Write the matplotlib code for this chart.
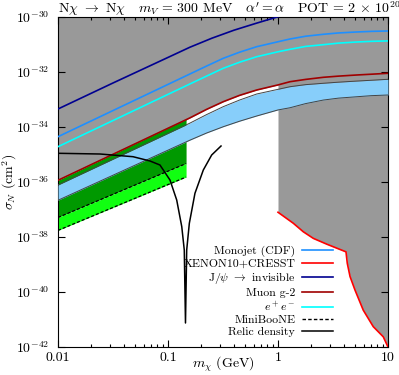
import matplotlib
matplotlib.use("Agg")
import matplotlib.pyplot as plt
import matplotlib.ticker as mticker
import numpy as np

plt.rcParams["font.family"] = "serif"
plt.rcParams["font.serif"] = ["cmr10", "DejaVu Serif"]
plt.rcParams["mathtext.fontset"] = "cm"
plt.rcParams["axes.formatter.use_mathtext"] = True
plt.rcParams["axes.unicode_minus"] = False

# ---- data (mass in GeV, log10 of sigma_N in cm^2) ----
curve_m = [0.01, 0.158, 0.224, 0.318, 0.447, 0.640, 1.0, 1.285, 1.778, 2.582, 3.548, 5.188, 7.079, 10.0]
monojet = [-34.353, -32.073, -31.785, -31.502, -31.28, -31.08, -30.90, -30.80, -30.70, -30.629,
           -30.58, -30.545, -30.522, -30.509]
epem = [-34.716, -32.436, -32.15, -31.865, -31.645, -31.444, -31.265, -31.175, -31.07, -31.007,
        -30.95, -30.909, -30.885, -30.87]
muon_g2 = [-35.938, -33.67, -33.36, -33.08, -32.85, -32.655, -32.47, -32.353, -32.27, -32.193,
           -32.15, -32.109, -32.08, -32.047]
band_top = [-36.11, -33.86, -33.55, -33.26, -33.02, -32.80, -32.63, -32.535, -32.46, -32.41,
            -32.37, -32.33, -32.30, -32.265]
band_bot = [-36.665, -34.48, -34.22, -33.99, -33.79, -33.60, -33.38, -33.30, -33.15, -33.02,
            -32.95, -32.90, -32.86, -32.836]

jpsi_m = [0.01, 0.0316, 0.1, 0.158, 0.251, 0.398, 0.631, 1.0, 1.585]
jpsi = [-33.345, -32.40, -31.47, -31.10, -30.77, -30.48, -30.23, -29.99, -29.77]

xenon_m = [1.0, 1.377, 1.698, 2.094, 2.773, 4.15, 4.266, 4.519, 5.012, 5.957, 7.345, 9.057, 10.0]
xenon = [-37.10, -37.50, -37.81, -38.05, -38.26, -38.54, -38.96, -39.44, -39.93, -40.66, -41.26, -41.63, -42.0]

mb_m = [0.01, 0.146]
mb_hi = [-37.29, -35.33]
mb_lo = [-37.76, -35.82]
mb_top = [-35.938, -33.72]

relic_m = [0.01, 0.0241, 0.0481, 0.0686, 0.0845, 0.1042, 0.120, 0.1334, 0.1406,
           0.1442, 0.1479, 0.1563, 0.1758, 0.2094, 0.2495, 0.3034]
relic = [-34.956, -34.982, -35.080, -35.236, -35.382, -35.927, -36.655, -37.625, -38.473,
         -41.127, -38.473, -37.502, -36.411, -35.564, -35.018, -34.691]

x_ticks = [0.01, 0.1, 1, 10]
x_ticklabels = ["0.01", "0.1", "1", "10"]
y_exps = [-30, -32, -34, -36, -38, -40, -42]

gray = "#999999"
top_val = 1e-30
dash = (0, (2.5, 1.6))


def p(v):
    return 10.0 ** np.array(v)


fig = plt.figure(figsize=(3.99, 3.75), dpi=100)
ax = fig.add_axes([58 / 399, 1 - 347 / 375, 330 / 399, 330 / 375])

# excluded region: above muon g-2 below 1 GeV, above XENON10+CRESST beyond
n_lo = sum(1 for m in curve_m if m <= 1.0)
excl_m = curve_m[:n_lo] + xenon_m
excl_y = muon_g2[:n_lo] + xenon
ax.fill_between(excl_m, p(excl_y), top_val, color=gray, lw=0, zorder=1)

# MiniBooNE sensitivity
ax.fill_between(mb_m, p(mb_hi), p(mb_top), color="#009900", lw=0, zorder=2)
ax.fill_between(mb_m, p(mb_lo), p(mb_hi), color="#11ff11", lw=0, zorder=2)
ax.plot(mb_m, p(mb_hi), color="black", ls=dash, lw=0.9, zorder=5)
ax.plot(mb_m, p(mb_lo), color="black", ls=dash, lw=0.9, zorder=5)

# favoured band
ax.fill_between(curve_m, p(band_bot), p(band_top), color="#87cefa", lw=0, zorder=3)
ax.plot(curve_m, p(band_top), color="#444444", lw=0.7, zorder=3)
ax.plot(curve_m, p(band_bot), color="#444444", lw=0.7, zorder=3)

# limit curves
ax.plot(curve_m, p(monojet), color="#1e90ff", lw=1.2, zorder=4, label="Monojet (CDF)")
ax.plot(xenon_m, p(xenon), color="#ff0000", lw=1.2, zorder=4, label="XENON10+CRESST")
ax.plot(jpsi_m, p(jpsi), color="#000090", lw=1.2, zorder=4, label=r"J/$\psi$ $\rightarrow$ invisible")
ax.plot(curve_m, p(muon_g2), color="#a00000", lw=1.2, zorder=4, label="Muon g-2")
ax.plot(curve_m, p(epem), color="#00ffff", lw=1.2, zorder=4, label=r"$e^+e^-$")
ax.plot([], [], color="black", ls=dash, lw=1.0, label="MiniBooNE")
ax.plot(relic_m, p(relic), color="black", lw=1.1, zorder=6, label="Relic density")

ax.set_xscale("log")
ax.set_yscale("log")
ax.set_xlim(0.01, 10)
ax.set_ylim(1e-42, 1e-30)

ax.set_xticks(x_ticks)
ax.set_xticklabels(x_ticklabels)
ax.xaxis.set_minor_locator(mticker.LogLocator(base=10, subs=np.arange(2, 10)))
ax.xaxis.set_minor_formatter(mticker.NullFormatter())
ax.set_yticks([10.0 ** e for e in y_exps])
ax.set_yticklabels([r"$10^{%d}$" % e for e in y_exps])
ax.yaxis.set_minor_locator(mticker.NullLocator())
ax.tick_params(which="both", direction="in", top=True, right=True, labelsize=10)
ax.tick_params(which="major", length=5, width=0.8)
ax.tick_params(which="minor", length=2.5, width=0.8)
ax.tick_params(axis="y", pad=6)

ax.set_xlabel(r"$m_\chi$ (GeV)", fontsize=10, va="center")
ax.xaxis.set_label_coords(0.5, -0.054)
ax.set_ylabel(r"$\sigma_N$ (cm$^2$)", fontsize=10, labelpad=-2)

ax.legend(loc="lower right", bbox_to_anchor=(333 / 399, 1 - 337 / 375),
          bbox_transform=fig.transFigure, frameon=False, markerfirst=False,
          fontsize=8.5, handlelength=2.6, handletextpad=0.6, labelspacing=0.12,
          borderpad=0, borderaxespad=0)

fig.text(58 / 399, 1 - 9 / 375,
         r"N$\chi$ $\rightarrow$ N$\chi$   $m_V$ = 300 MeV   $\alpha' = \alpha$   POT = 2 $\times$ 10$^{20}$",
         ha="left", va="center", fontsize=10)

fig.savefig("out.png", dpi=100)
